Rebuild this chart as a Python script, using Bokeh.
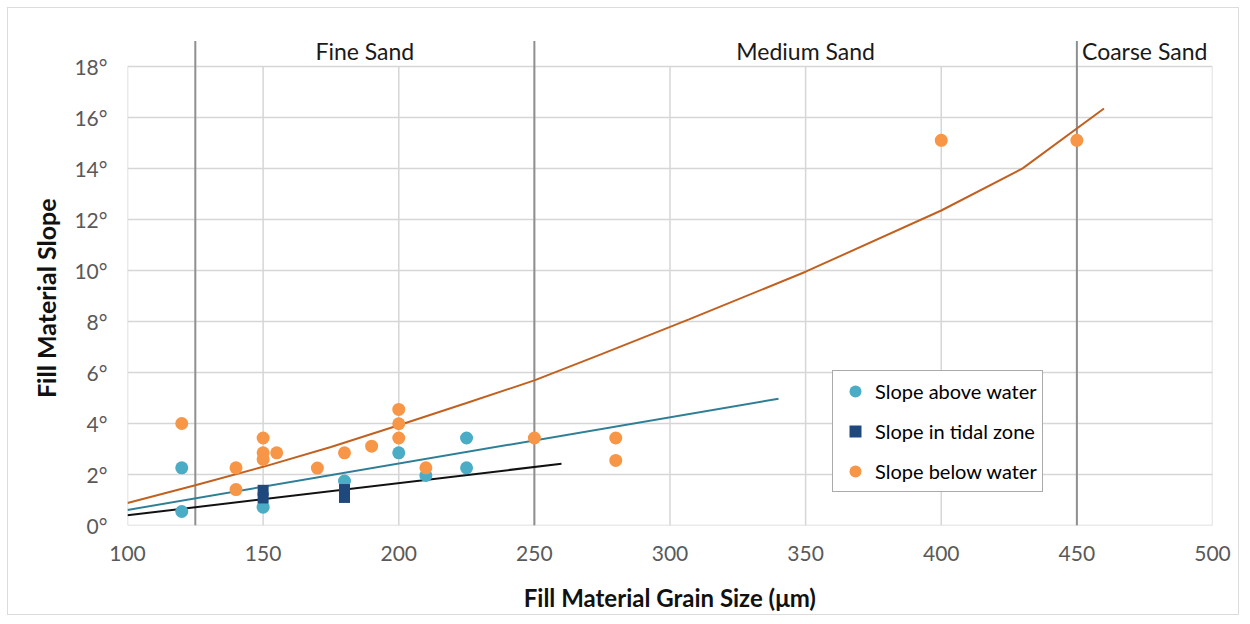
from bokeh.plotting import figure
from bokeh.models import Range1d, FixedTicker, Legend, LegendItem
from bokeh.core.properties import value
from bokeh.embed import file_html
from bokeh.resources import INLINE

# ---- data ----
above_x = [120, 120, 150, 180, 200, 210, 225, 225]
above_y = [2.26, 0.55, 0.72, 1.74, 2.85, 1.96, 3.43, 2.26]

tidal_x = [150, 150, 180, 180]
tidal_y = [1.38, 1.08, 1.41, 1.10]

below_x = [120, 140, 140, 150, 150, 150, 155, 170, 180, 190, 200, 200, 200, 210, 250, 280, 280, 400, 450]
below_y = [4.0, 2.26, 1.41, 3.43, 2.85, 2.59, 2.85, 2.25, 2.85, 3.11, 4.55, 3.99, 3.43, 2.26, 3.43, 3.43, 2.55, 15.1, 15.1]

# trend lines
below_fit_x = [100, 125, 150, 175, 200, 225, 250, 275, 307, 350, 400, 430, 460]
below_fit_y = [0.88, 1.58, 2.3, 3.08, 3.93, 4.8, 5.69, 6.73, 8.08, 9.95, 12.35, 14.0, 16.35]

above_fit_x = [100, 340]
above_fit_y = [0.61, 4.97]

tidal_fit_x = [100, 260]
tidal_fit_y = [0.40, 2.42]

zone_bounds = [125, 250, 450]
zone_names = ["Fine Sand", "Medium Sand", "Coarse Sand"]
zone_edges = [125, 250, 450, 500]

x_ticks = [100, 150, 200, 250, 300, 350, 400, 450, 500]
y_ticks = [0, 2, 4, 6, 8, 10, 12, 14, 16, 18]
y_tick_labels = [f"{t}°" for t in y_ticks]

FONT = "Lato"
GRID = "#d6d6d6"

p = figure(width=1232, height=608,
           x_range=Range1d(100, 500), y_range=Range1d(0, 19.25),
           output_backend="svg", toolbar_location=None,
           min_border_left=119, min_border_right=28,
           min_border_top=26, min_border_bottom=91)
p.styles = {"margin-left": "7px", "margin-top": "7px", "border": "1px solid #dcdcdc"}

p.xgrid.visible = False
p.ygrid.visible = False
p.outline_line_color = None
p.background_fill_color = "white"
p.border_fill_color = "white"

# gridlines and plot-area border from tick lists
ymax = y_ticks[-1]
p.segment(x0=x_ticks, y0=[0] * len(x_ticks), x1=x_ticks, y1=[ymax] * len(x_ticks),
          line_color=GRID, line_width=1.5)
p.segment(x0=[x_ticks[0]] * len(y_ticks), y0=y_ticks, x1=[x_ticks[-1]] * len(y_ticks), y1=y_ticks,
          line_color=GRID, line_width=1.5)

# zone boundaries
p.segment(x0=zone_bounds, y0=[0] * 3, x1=zone_bounds, y1=[19.0] * 3,
          line_color="#8f8f8f", line_width=2)

zone_mid = [(a + b) / 2 for a, b in zip(zone_edges[:-1], zone_edges[1:])]
p.text(x=zone_mid, y=[18.62] * 3, text=zone_names,
       text_font=value(FONT), text_font_size="23px", text_color="#1a1a1a",
       text_align="center", text_baseline="middle")

# trend lines
p.line(below_fit_x, below_fit_y, line_color="#C2611F", line_width=2)
p.line(above_fit_x, above_fit_y, line_color="#2E7F96", line_width=2)
p.line(tidal_fit_x, tidal_fit_y, line_color="#111111", line_width=2)

# points
r_above = p.scatter(above_x, above_y, marker="circle", size=13,
                    fill_color="#4BACC6", line_color=None)
r_tidal = p.scatter(tidal_x, tidal_y, marker="square", size=11,
                    fill_color="#1F497D", line_color=None)
r_below = p.scatter(below_x, below_y, marker="circle", size=13,
                    fill_color="#F79646", line_color=None)

# axes
p.xaxis.ticker = FixedTicker(ticks=x_ticks)
p.yaxis.ticker = FixedTicker(ticks=y_ticks)
p.yaxis.major_label_overrides = {t: l for t, l in zip(y_ticks, y_tick_labels)}
for ax in (p.xaxis[0], p.yaxis[0]):
    ax.axis_line_color = None
    ax.major_tick_line_color = None
    ax.minor_tick_line_color = None
    ax.major_tick_out = 0
    ax.major_tick_in = 0
    ax.major_label_text_font = FONT
    ax.major_label_text_font_size = "21px"
    ax.major_label_text_color = "#595959"
    ax.axis_label_text_font = FONT
    ax.axis_label_text_font_style = "bold"
    ax.axis_label_text_color = "#111111"

p.xaxis.axis_label_text_font_size = "24px"
p.yaxis.axis_label_text_font_size = "25px"
p.xaxis.axis_label = "Fill Material Grain Size (μm)"
# trailing no-break spaces move the title's centre down onto the 0-18 plot area
p.yaxis.axis_label = "Fill Material Slope" + "\u00a0" * 6
p.xaxis.major_label_standoff = 20
p.yaxis.major_label_standoff = 20
p.xaxis.axis_label_standoff = 19
p.yaxis.axis_label_standoff = 10

legend = Legend(items=[
    LegendItem(label="Slope above water", renderers=[r_above]),
    LegendItem(label="Slope in tidal zone", renderers=[r_tidal]),
    LegendItem(label="Slope below water", renderers=[r_below]),
], location=(705, 33))
legend.label_text_font = FONT
legend.label_text_font_size = "20px"
legend.label_text_color = "#000000"
legend.border_line_color = "#555555"
legend.border_line_width = 1.5
legend.background_fill_color = "white"
legend.background_fill_alpha = 1.0
legend.padding = 5
legend.spacing = 10
legend.glyph_width = 34
legend.glyph_height = 30
legend.label_height = 30
legend.label_standoff = 3
legend.margin = 0
p.add_layout(legend)

open("out.html", "w").write(file_html(p, INLINE))
